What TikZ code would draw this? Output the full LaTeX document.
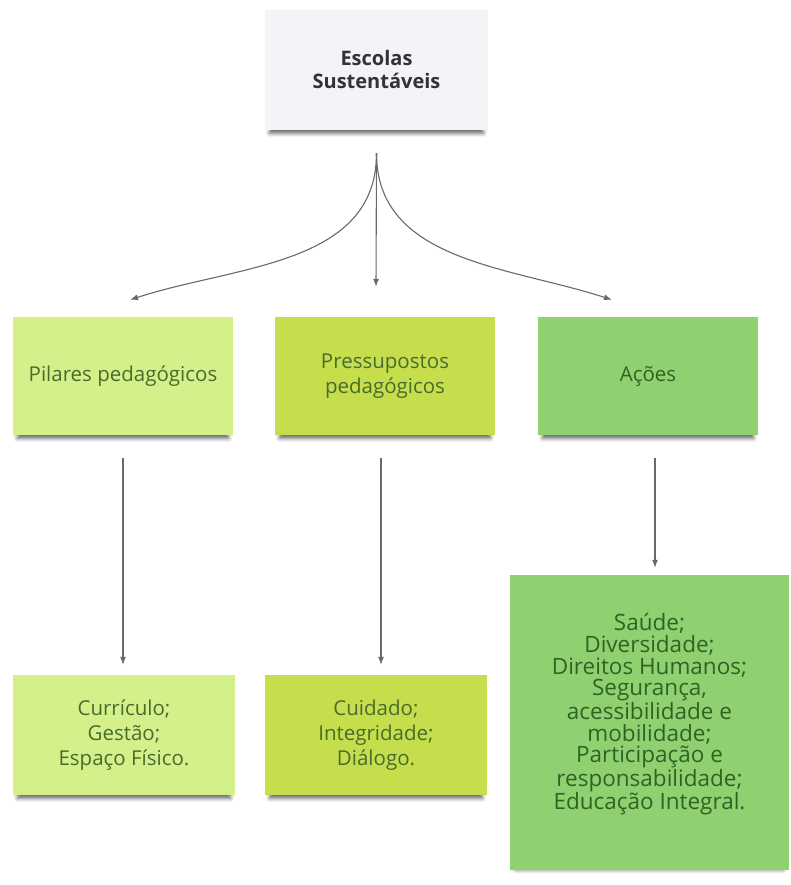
\documentclass[tikz,border=0pt]{standalone}
\usepackage{fontspec}
\setmainfont{Open Sans}
\usetikzlibrary{arrows.meta,shadows.blur}
\definecolor{topfill}{RGB}{244,244,248}
\definecolor{pilarfill}{RGB}{212,240,138}
\definecolor{pressfill}{RGB}{199,222,76}
\definecolor{acaofill}{RGB}{143,209,113}
\definecolor{notetext}{RGB}{72,108,46}
\definecolor{acaotext}{RGB}{46,100,34}
\definecolor{linegray}{RGB}{105,105,105}
\tikzset{
  note/.style={minimum width=220pt, minimum height=118pt, inner sep=0pt, align=center,
    text=notetext, font=\fontsize{20.5}{25}\selectfont,
    blur shadow={shadow xshift=0pt, shadow yshift=-6pt, shadow blur radius=4pt, shadow opacity=60, shadow scale=0.96}},
  link/.style={draw=linegray, line width=1.1pt, -{Latex[length=8pt,width=6pt]}}
}
\begin{document}
\begin{tikzpicture}[x=1pt,y=1pt]
\useasboundingbox (0,0) rectangle (791,-885);
% the sticky notes
\node[note, fill=topfill, minimum width=223pt, minimum height=120pt, text={rgb,255:red,51;green,51;blue,51},
  font=\bfseries\fontsize{20}{23}\selectfont] (escolas) at (376.5,-70) {Escolas\\Sustentáveis};
\node[note, fill=pilarfill] (pilares) at (123,-376) {Pilares pedagógicos};
\node[note, fill=pressfill] (pressup) at (385,-376) {Pressupostos\\pedagógicos};
\node[note, fill=acaofill, text=acaotext] (acoes) at (648,-376) {Ações};
\node[note, fill=pilarfill, minimum width=222pt, minimum height=120pt] (curriculo) at (124,-735) {Currículo;\\Gestão;\\Espaço Físico.};
\node[note, fill=pressfill, minimum width=222pt, minimum height=120pt] (cuidado) at (376,-735) {Cuidado;\\Integridade;\\Diálogo.};
\node[note, fill=acaofill, text=acaotext, minimum width=279pt, minimum height=295pt, font=\fontsize{22.5}{21.8}\selectfont] (saude) at (649.5,-722.5)
  {Saúde;\\Diversidade;\\Direitos Humanos;\\Segurança,\\acessibilidade e\\mobilidade;\\Participação e\\responsabilidade;\\Educação Integral.\\\mbox{}};
% arrows
\draw[link] ([yshift=-23pt]escolas.south) to[out=-90,in=18] ([xshift=7pt,yshift=17pt]pilares.north);
\draw[link] ([yshift=-23pt]escolas.south) -- ([xshift=-9pt,yshift=30pt]pressup.north);
\draw[link] ([yshift=-23pt]escolas.south) to[out=-90,in=162] ([xshift=-36pt,yshift=17pt]acoes.north);
\draw[link, shorten <=23pt, shorten >=10pt] (pilares.south) -- (pilares.south |- curriculo.north);
\draw[link, shorten <=23pt, shorten >=10pt] ([xshift=-4pt]pressup.south) -- ([xshift=-4pt]pressup.south |- cuidado.north);
\draw[link, shorten <=23pt, shorten >=7pt] ([xshift=7pt]acoes.south) -- ([xshift=7pt]acoes.south |- saude.north);
\end{tikzpicture}
\end{document}
